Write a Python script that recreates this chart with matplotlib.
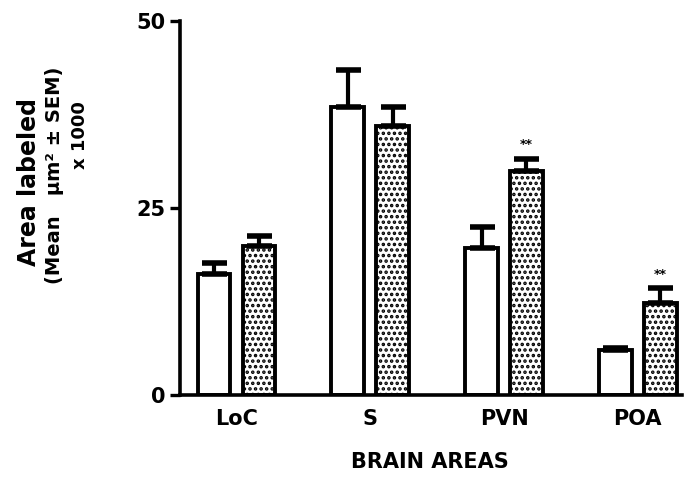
import matplotlib
matplotlib.use("Agg")
import matplotlib.pyplot as plt
import numpy as np

areas = ["LoC", "S", "PVN", "POA"]
control_mean = [16.2, 38.5, 19.6, 6.0]
control_sem = [1.5, 5.0, 2.8, 0.3]
treated_mean = [19.9, 36.0, 30.0, 12.3]
treated_sem = [1.4, 2.5, 1.6, 2.0]
significant = [False, False, True, True]

plt.rcParams["font.family"] = ["DejaVu Sans"]
plt.rcParams["font.weight"] = "bold"
plt.rcParams["hatch.linewidth"] = 1.7
plt.rcParams["hatch.color"] = "black"

fig = plt.figure(figsize=(6.86, 5.0), dpi=100)
ax = fig.add_axes([0.262, 0.21, 0.732, 0.748])

x = np.arange(len(areas))
w = 0.245
off = 0.168

err_kw = dict(ecolor="black", elinewidth=3.0, capsize=9, capthick=4)
ax.bar(x - off, control_mean, w, color="white", edgecolor="black", linewidth=2.8,
       yerr=[np.zeros(len(areas)), control_sem], error_kw=err_kw, zorder=2)
ax.bar(x + off, treated_mean, w, color="white", edgecolor="black", linewidth=2.8,
       hatch="...", yerr=[np.zeros(len(areas)), treated_sem], error_kw=err_kw, zorder=2)

for i, sig in enumerate(significant):
    if sig:
        ax.text(x[i] + off, treated_mean[i] + treated_sem[i] + 1.0, "**",
                ha="center", va="bottom", fontsize=9, fontweight="bold")

ax.set_xlim(-0.425, 3.33)
ax.set_ylim(0, 50)
ax.set_yticks([0, 25, 50])
ax.set_yticklabels(["0", "25", "50"], fontsize=15, fontweight="bold")
ax.set_xticks(x)
ax.set_xticklabels(areas, fontsize=15, fontweight="bold")
ax.tick_params(axis="x", length=0, pad=10)
ax.tick_params(axis="y", length=7, width=2.4, pad=3)

for side in ("top", "right"):
    ax.spines[side].set_visible(False)
ax.spines["left"].set_linewidth(2.6)
ax.spines["bottom"].set_linewidth(2.6)

fig.text(0.627, 0.076, "BRAIN AREAS", ha="center", va="center",
         fontsize=15, fontweight="bold")
fig.text(0.042, 0.636, "Area labeled", rotation=90, ha="center",
         va="center", fontsize=17, fontweight="bold")
fig.text(0.080, 0.65, "(Mean   μm² ± SEM)", rotation=90,
         ha="center", va="center", fontsize=14, fontweight="bold")
fig.text(0.117, 0.73, "x 1000", rotation=90, ha="center", va="center",
         fontsize=13, fontweight="bold")

fig.savefig("out.png", dpi=100)
